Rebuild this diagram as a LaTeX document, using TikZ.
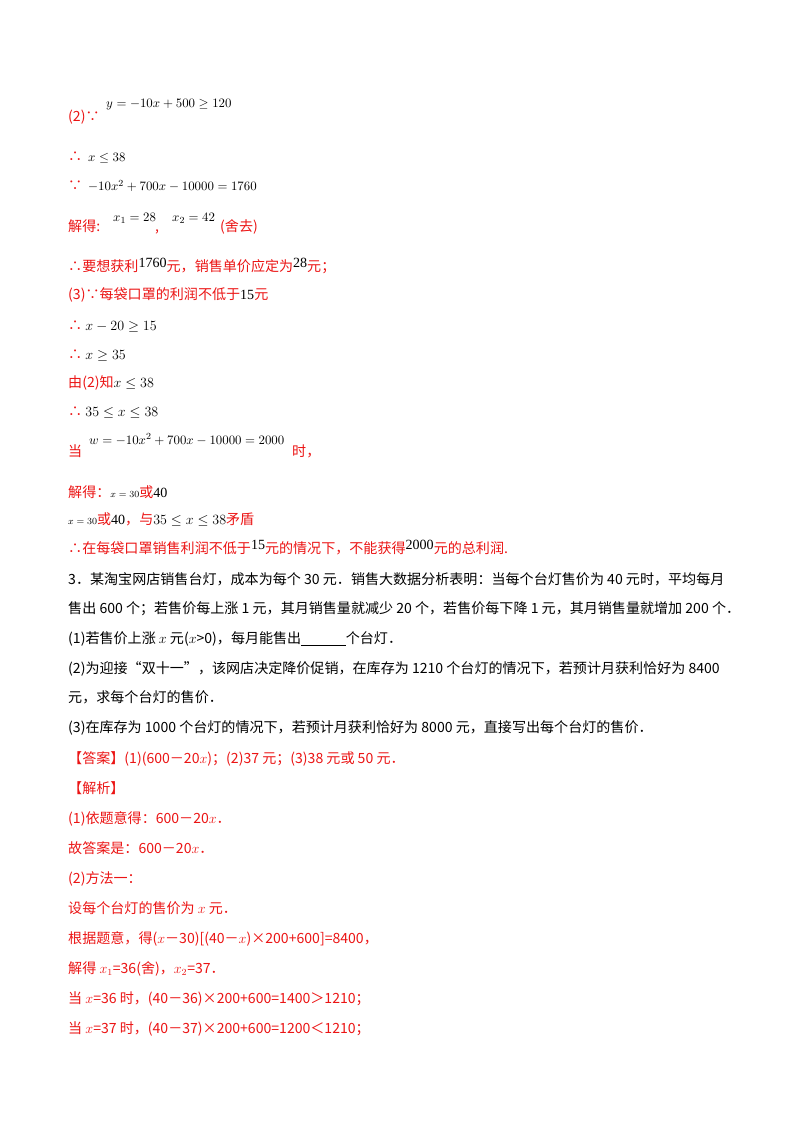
\documentclass[tikz,border=0pt]{standalone}
\usepackage{fontspec}
\setmainfont{Noto Sans CJK SC}
\newfontfamily\tms{Liberation Serif}
\usetikzlibrary{positioning}
\definecolor{ansred}{RGB}{235,20,20}
\tikzset{
  txt/.style={anchor=base west, inner sep=0pt, font=\fontsize{12}{14}\selectfont},
  red/.style={txt, text=ansred},
  blk/.style={txt, text=black},
  eq/.style={anchor=base west, inner sep=0pt, font=\fontsize{11}{13}\selectfont, text=black},
}
\newcommand{\n}[1]{{\tms #1}}
\begin{document}
\begin{tikzpicture}[x=0.03cm,y=-0.03cm]
\useasboundingbox (0,0) rectangle (800,1132);
% part (2)
\node[red] (a1) at (68,122) {(2)∵};
\node[eq] (a1e) at (106,108) {$y=-10x+500\geq 120$};
\node[red] (a2) at (68,162) {∴};
\node[eq] (a2e) at (88,162) {$x\leq 38$};
\node[red] (a3) at (68,191) {∵};
\node[eq] (a3e) at (88,191) {$-10x^2+700x-10000=1760$};
\node[red] (a4) at (68,232) {解得:};
\node[eq] (a4e) at (113,222) {$x_1=28$};
\node[red] (a4c) at (155,232) {,};
\node[eq] (a4f) at (172,222) {$x_2=42$};
\node[red] (a4g) at (220,232) {(舍去)};
\node[red] (a5) at (68,271) {∴要想获利\raisebox{3pt}{\n{\color{black}1760}}元，销售单价应定为\raisebox{3pt}{\n{\color{black}28}}元；};
% part (3)
\node[red] (b1) at (68,300) {(3)∵每袋口罩的利润不低于\n{\color{black}15}元};
\node[red] (b2) at (68,330) {∴ \color{black}$x-20\geq 15$};
\node[red] (b3) at (68,359) {∴ \color{black}$x\geq 35$};
\node[red] (b4) at (68,387) {由(2)知\color{black}$x\leq 38$};
\node[red] (b5) at (68,416) {∴ \color{black}$35\leq x\leq 38$};
\node[red] (b6) at (68,456) {当};
\node[eq] (b6e) at (89,444) {$w=-10x^2+700x-10000=2000$};
\node[red] (b6f) at (292,456) {时，};
\node[red] (b7) at (68,497) {解得：{\color{black}\footnotesize$x=30$}或\n{\color{black}40}};
\node[red] (b8) at (68,524) {{\color{black}\footnotesize$x=30$}或\n{\color{black}40}，与\color{black}$35\leq x\leq 38$\color{ansred}矛盾};
\node[red] (b9) at (68,553) {∴在每袋口罩销售利润不低于\raisebox{3pt}{\n{\color{black}15}}元的情况下，不能获得\raisebox{3pt}{\n{\color{black}2000}}元的总利润.};
% problem 3
\node[blk] (c1) at (68,584) {3．某淘宝网店销售台灯，成本为每个 30 元．销售大数据分析表明：当每个台灯售价为 40 元时，平均每月};
\node[blk] (c2) at (68,613) {售出 600 个；若售价每上涨 1 元，其月销售量就减少 20 个，若售价每下降 1 元，其月销售量就增加 200 个．};
\node[blk] (c3) at (68,643) {(1)若售价上涨 $x$ 元($x$>0)，每月能售出\rule[-2pt]{38pt}{0.6pt}个台灯．};
\node[blk] (c4) at (68,673) {(2)为迎接“双十一”，该网店决定降价促销，在库存为 1210 个台灯的情况下，若预计月获利恰好为 8400};
\node[blk] (c5) at (68,702) {元，求每个台灯的售价．};
\node[blk] (c6) at (68,732) {(3)在库存为 1000 个台灯的情况下，若预计月获利恰好为 8000 元，直接写出每个台灯的售价．};
\node[red] (d1) at (68,763) {【答案】(1)(600－20$x$)；(2)37 元；(3)38 元或 50 元．};
\node[red] (d2) at (68,793) {【解析】};
\node[red] (d3) at (68,823) {(1)依题意得：600－20$x$．};
\node[red] (d4) at (68,853) {故答案是：600－20$x$．};
\node[red] (d5) at (68,883) {(2)方法一：};
\node[red] (d6) at (68,913) {设每个台灯的售价为 $x$ 元．};
\node[red] (d7) at (68,943) {根据题意，得($x$－30)[(40－$x$)×200+600]=8400，};
\node[red] (d8) at (68,973) {解得 $x_1$=36(舍)，$x_2$=37．};
\node[red] (d9) at (68,1003) {当 $x$=36 时，(40－36)×200+600=1400＞1210；};
\node[red] (d10) at (68,1033) {当 $x$=37 时，(40－37)×200+600=1200＜1210；};
\end{tikzpicture}
\end{document}
